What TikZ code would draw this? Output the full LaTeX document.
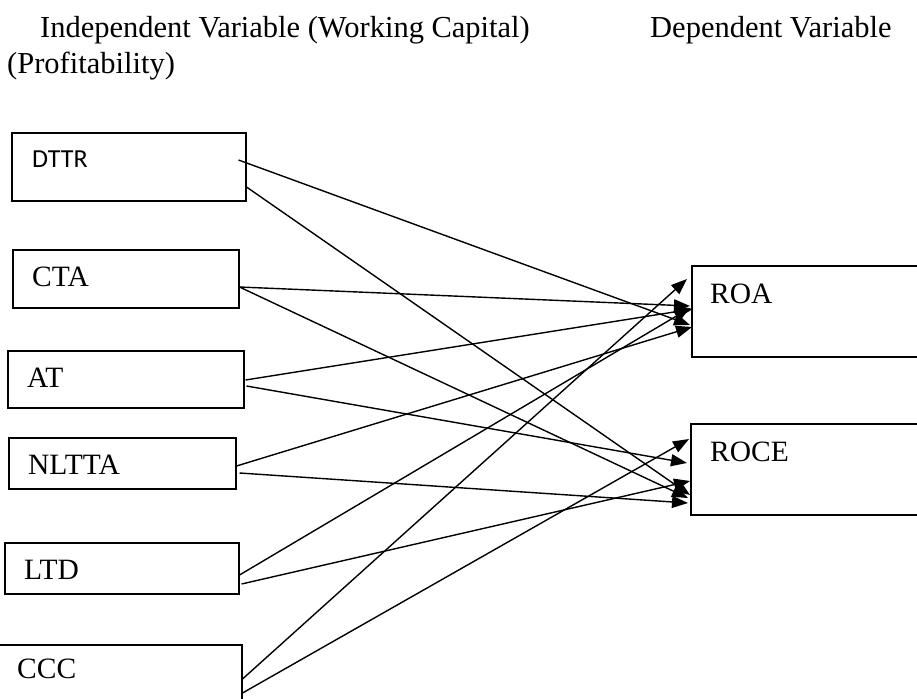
\documentclass[tikz,border=0pt]{standalone}
\usepackage{fontspec}
\setmainfont{Liberation Serif}
\newfontfamily\calibrifont{Carlito}
\usetikzlibrary{arrows.meta,calc}

\tikzset{
  varbox/.style={draw, line width=1.5pt, rectangle, anchor=north west, inner sep=0pt},
  varlabel/.style={anchor=base west, inner sep=0pt, font=\fontsize{29.5}{34}\selectfont},
  headtext/.style={anchor=base west, inner sep=0pt, font=\fontsize{30.5}{36}\selectfont},
  link/.style={line width=1.4pt, -{Triangle[length=16pt,width=12pt]}}
}

\begin{document}
\begin{tikzpicture}[x=1pt,y=1pt,yscale=-1]
    \clip (0,0) rectangle (917,698);
    % Headings
    \node[headtext] (indep) at (40,38) {Independent Variable (Working Capital)};
    \node[headtext] (dep) at (650,38) {Dependent Variable};
    \node[headtext] (profit) at (7,74) {(Profitability)};

    % Independent variables
    \node[varbox, minimum width=234pt, minimum height=68pt] (dttr) at (11,132) {};
    \node[varbox, minimum width=226pt, minimum height=58pt] (cta) at (12,249) {};
    \node[varbox, minimum width=236pt, minimum height=57pt] (at) at (7,350) {};
    \node[varbox, minimum width=227pt, minimum height=51pt] (nltta) at (8,437) {};
    \node[varbox, minimum width=234pt, minimum height=51pt] (ltd) at (4,542) {};
    \node[varbox, minimum width=250pt, minimum height=80pt] (ccc) at (-9,644) {};

    % Dependent variables
    \node[varbox, minimum width=240pt, minimum height=91pt] (roa) at (691,265) {};
    \node[varbox, minimum width=240pt, minimum height=91pt] (roce) at (690,423) {};

    % Text Nodes
    \node[varlabel, font=\calibrifont\fontsize{26}{30}\selectfont] (dttrtext) at (32,167) {DTTR};
    \node[varlabel] (ctatext) at (32,286) {CTA};
    \node[varlabel] (attext) at (27,387) {AT};
    \node[varlabel] (nlttatext) at (28,474) {NLTTA};
    \node[varlabel] (ltdtext) at (24,579) {LTD};
    \node[varlabel] (ccctext) at (17,678) {CCC};
    \node[varlabel] (roatext) at (710,303) {ROA};
    \node[varlabel] (rocetext) at (710,461) {ROCE};

    % Links to ROA
    \draw[link] ($(dttr.north east)+(-8,28)$) -- ($(roa.north west)+(-1,60)$);
    \draw[link] ($(cta.north east)+(0,38)$) -- ($(roa.north west)+(-1,41)$);
    \draw[link] ($(at.north east)+(1,30)$) -- ($(roa.north west)+(2,44)$);
    \draw[link] ($(nltta.north east)+(0,29)$) -- ($(roa.north west)+(1,62)$);
    \draw[link] ($(ltd.north east)+(0,33)$) -- ($(roa.north west)+(-1,43)$);
    \draw[link] ($(ccc.north east)+(0,35)$) -- ($(roa.north west)+(-4,14)$);

    % Links to ROCE
    \draw[link] ($(dttr.north east)+(0,55)$) -- ($(roce.north west)+(0,72)$);
    \draw[link] ($(cta.north east)+(0,38)$) -- ($(roce.north west)+(-2,75)$);
    \draw[link] ($(at.north east)+(2,36)$) -- ($(roce.north west)+(-3,40)$);
    \draw[link] ($(nltta.north east)+(3,36)$) -- ($(roce.north west)+(-2,80)$);
    \draw[link] ($(ltd.north east)+(2,42)$) -- ($(roce.north west)+(0,58)$);
    \draw[link] ($(ccc.north east)+(0,49)$) -- ($(roce.north west)+(-1,16)$);
\end{tikzpicture}
\end{document}
